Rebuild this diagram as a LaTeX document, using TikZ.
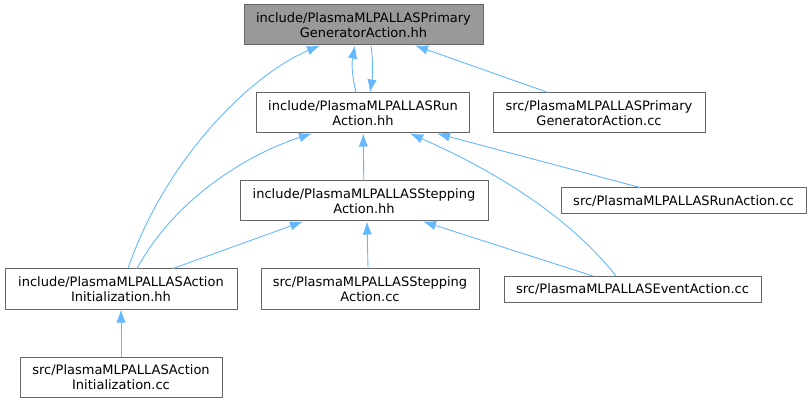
\documentclass[tikz,border=0pt]{standalone}
\usepackage{fontspec}
\setmainfont{DejaVu Sans}
\usepackage{tikz}
\usetikzlibrary{arrows.meta}
\tikzset{>={Latex[length=13pt,width=9.5pt]}}
\definecolor{edgeblue}{HTML}{63B8FF}
\definecolor{boxline}{HTML}{666666}
\definecolor{rootfill}{HTML}{999999}
\tikzset{
  file/.style={draw=boxline, line width=1pt, fill=white, inner sep=0pt, align=center,
    font=\fontsize{13}{14.5}\selectfont},
  dep/.style={edgeblue, line width=0.9pt, ->},
}

\begin{document}
\begin{tikzpicture}[x=1pt, y=-1pt]
            \useasboundingbox (0, 0) rectangle (811, 403);
            % files
            \node[file, fill=rootfill, minimum width=239, minimum height=40] (pgahh) at (363.5, 25) {include/PlasmaMLPALLASPrimary\\GeneratorAction.hh};
            \node[file, minimum width=213.5, minimum height=40] (runhh) at (363, 113) {include/PlasmaMLPALLASRun\\Action.hh};
            \node[file, minimum width=212, minimum height=40] (pgacc) at (599, 113) {src/PlasmaMLPALLASPrimary\\GeneratorAction.cc};
            \node[file, minimum width=248, minimum height=40] (stephh) at (364, 201) {include/PlasmaMLPALLASStepping\\Action.hh};
            \node[file, minimum width=245, minimum height=26] (runcc) at (683.5, 201) {src/PlasmaMLPALLASRunAction.cc};
            \node[file, minimum width=232, minimum height=40] (aihh) at (121, 289) {include/PlasmaMLPALLASAction\\Initialization.hh};
            \node[file, minimum width=218, minimum height=40] (stepcc) at (370, 289) {src/PlasmaMLPALLASStepping\\Action.cc};
            \node[file, minimum width=257, minimum height=26] (evcc) at (632.5, 289.5) {src/PlasmaMLPALLASEventAction.cc};
            \node[file, minimum width=202, minimum height=40] (aicc) at (121, 377) {src/PlasmaMLPALLASAction\\Initialization.cc};
            % includes
            \draw[dep] ([xshift=-7]runhh.north) to[bend left=12] ([xshift=-8.5]pgahh.south);
            \draw[dep] ([xshift=7.5]pgahh.south) to[bend left=8] ([xshift=7]runhh.north);
            \draw[dep] ([xshift=-51]pgacc.north) -- ([xshift=51.5]pgahh.south);
            \draw[dep] ([xshift=7]aihh.north) .. controls (165, 160) and (250, 75) .. ([xshift=-43.5]pgahh.south);
            \draw[dep] ([xshift=16]aihh.north) .. controls (180, 190) and (260, 150) .. ([xshift=-51]runhh.south);
            \draw[dep] (stephh) -- (runhh);
            \draw[dep] ([xshift=-16.5]evcc.north) .. controls (560, 205) and (470, 160) .. ([xshift=47]runhh.south);
            \draw[dep] ([xshift=-43.5]runcc.north) -- ([xshift=74]runhh.south);
            \draw[dep] ([xshift=52]aihh.north) -- ([xshift=-61]stephh.south);
            \draw[dep] ([xshift=-2]stepcc.north) -- ([xshift=3]stephh.south);
            \draw[dep] ([xshift=-39.5]evcc.north) -- ([xshift=59]stephh.south);
            \draw[dep] (aicc) -- (aihh);
        \end{tikzpicture}
\end{document}
